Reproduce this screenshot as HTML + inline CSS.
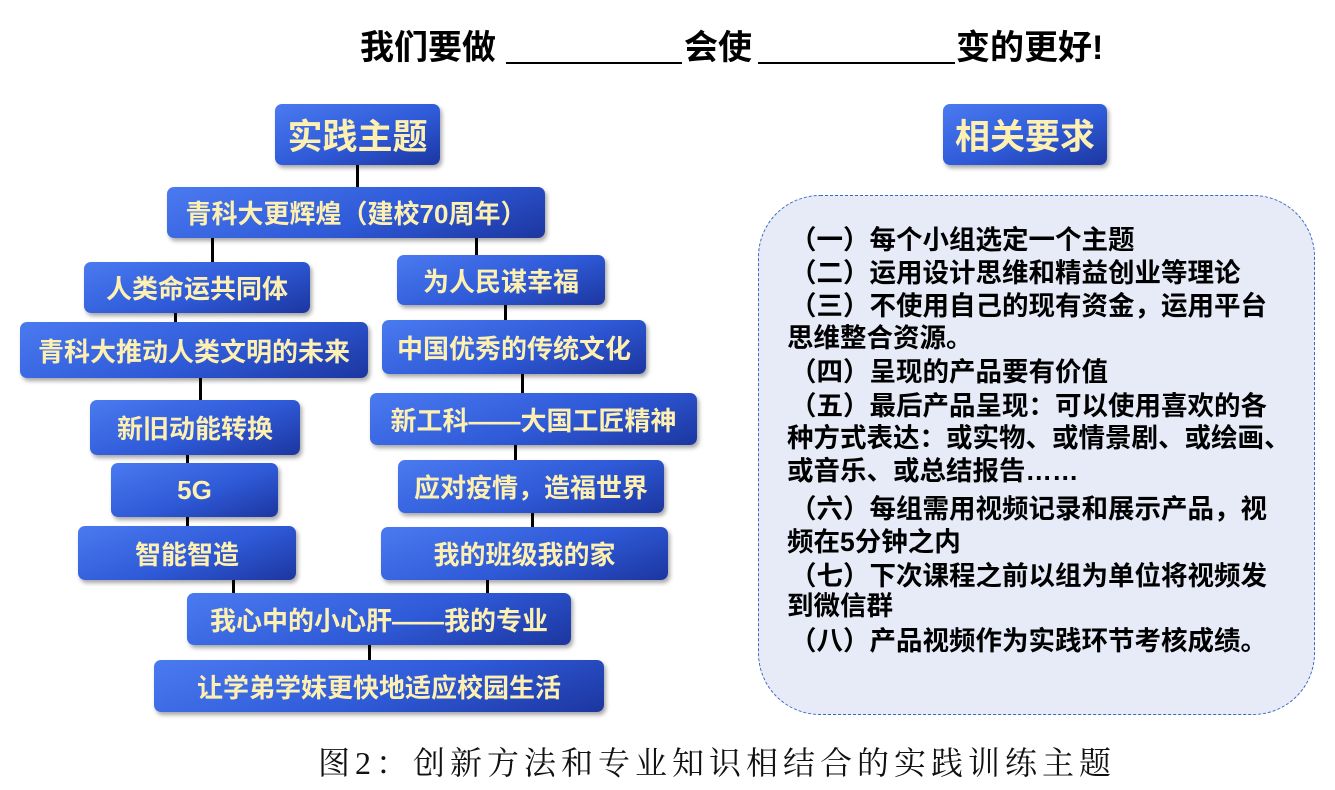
<!DOCTYPE html>
<html><head><meta charset="utf-8"><style>
body{margin:0;width:1335px;height:790px;background:#fff;position:relative;overflow:hidden;font-family:"Liberation Sans","Noto Sans CJK SC",sans-serif;}
.b{position:absolute;box-sizing:border-box;border-radius:7px;background:linear-gradient(160deg,#4a7af0 0%,#2f5ad8 55%,#1c36a0 100%);box-shadow:2px 3px 4px rgba(0,0,0,.35);color:#fdf0b0;font-weight:bold;font-size:26px;display:flex;align-items:center;justify-content:center;white-space:nowrap;}
.l{position:absolute;width:3px;background:#000;}
.t{position:absolute;font-weight:bold;font-size:34px;color:#000;top:26px;line-height:44px;}
.u{position:absolute;border-bottom:2px solid #000;top:62px;}
.r{position:absolute;font-weight:bold;font-size:26.5px;color:#000;white-space:nowrap;line-height:30px;}
</style></head><body>
<div class="t" style="left:360px">我们要做</div>
<div class="u" style="left:506px;width:176px"></div>
<div class="t" style="left:684px">会使</div>
<div class="u" style="left:758px;width:197px"></div>
<div class="t" style="left:956px">变的更好!</div>

<div class="l" style="left:356px;top:160px;height:30px"></div>
<div class="l" style="left:211px;top:235px;height:30px"></div>
<div class="l" style="left:475px;top:235px;height:23px"></div>
<div class="l" style="left:174px;top:310px;height:15px"></div>
<div class="l" style="left:504px;top:302px;height:20px"></div>
<div class="l" style="left:199px;top:375px;height:28px"></div>
<div class="l" style="left:521px;top:371px;height:25px"></div>
<div class="l" style="left:186px;top:452px;height:14px"></div>
<div class="l" style="left:514px;top:442px;height:20px"></div>
<div class="l" style="left:186px;top:514px;height:15px"></div>
<div class="l" style="left:531px;top:510px;height:20px"></div>
<div class="l" style="left:232px;top:577px;height:19px"></div>
<div class="l" style="left:486px;top:577px;height:19px"></div>
<div class="l" style="left:368px;top:642px;height:21px"></div>

<div class="b" style="left:275px;top:104px;width:165px;height:61px;font-size:35px">实践主题</div>
<div class="b" style="left:943px;top:104px;width:164px;height:61px;font-size:35px">相关要求</div>
<div class="b" style="left:167px;top:187px;width:378px;height:51px">青科大更辉煌（建校70周年）</div>
<div class="b" style="left:84px;top:262px;width:226px;height:51px">人类命运共同体</div>
<div class="b" style="left:397px;top:255px;width:208px;height:50px">为人民谋幸福</div>
<div class="b" style="left:20px;top:322px;width:348px;height:56px">青科大推动人类文明的未来</div>
<div class="b" style="left:382px;top:320px;width:264px;height:54px">中国优秀的传统文化</div>
<div class="b" style="left:90px;top:400px;width:210px;height:55px">新旧动能转换</div>
<div class="b" style="left:370px;top:393px;width:327px;height:52px">新工科——大国工匠精神</div>
<div class="b" style="left:111px;top:463px;width:167px;height:54px">5G</div>
<div class="b" style="left:398px;top:460px;width:266px;height:53px">应对疫情，造福世界</div>
<div class="b" style="left:78px;top:526px;width:218px;height:54px">智能智造</div>
<div class="b" style="left:381px;top:527px;width:287px;height:53px">我的班级我的家</div>
<div class="b" style="left:187px;top:593px;width:384px;height:52px">我心中的小心肝——我的专业</div>
<div class="b" style="left:154px;top:660px;width:450px;height:52px">让学弟学妹更快地适应校园生活</div>

<div style="position:absolute;left:758px;top:195px;width:557px;height:520px;box-sizing:border-box;border:1.5px dashed #3a68c0;border-radius:62px;background:#e6ebf7"></div>
<div class="r" style="left:790px;top:225px">（一）每个小组选定一个主题</div>
<div class="r" style="left:790px;top:258px">（二）运用设计思维和精益创业等理论</div>
<div class="r" style="left:790px;top:291px">（三）不使用自己的现有资金，运用平台</div>
<div class="r" style="left:787px;top:323px">思维整合资源。</div>
<div class="r" style="left:790px;top:357px">（四）呈现的产品要有价值</div>
<div class="r" style="left:790px;top:391px">（五）最后产品呈现：可以使用喜欢的各</div>
<div class="r" style="left:787px;top:423px">种方式表达：或实物、或情景剧、或绘画、</div>
<div class="r" style="left:787px;top:456px">或音乐、或总结报告……</div>
<div class="r" style="left:790px;top:494px">（六）每组需用视频记录和展示产品，视</div>
<div class="r" style="left:787px;top:527px">频在5分钟之内</div>
<div class="r" style="left:790px;top:561px">（七）下次课程之前以组为单位将视频发</div>
<div class="r" style="left:787px;top:591px">到微信群</div>
<div class="r" style="left:790px;top:626px">（八）产品视频作为实践环节考核成绩。</div>

<div style="position:absolute;left:318px;top:740px;font-family:'Liberation Serif','Noto Serif CJK SC',serif;font-size:32px;letter-spacing:5px;white-space:nowrap;color:#111;line-height:46px">图2：创新方法和专业知识相结合的实践训练主题</div>
</body></html>
